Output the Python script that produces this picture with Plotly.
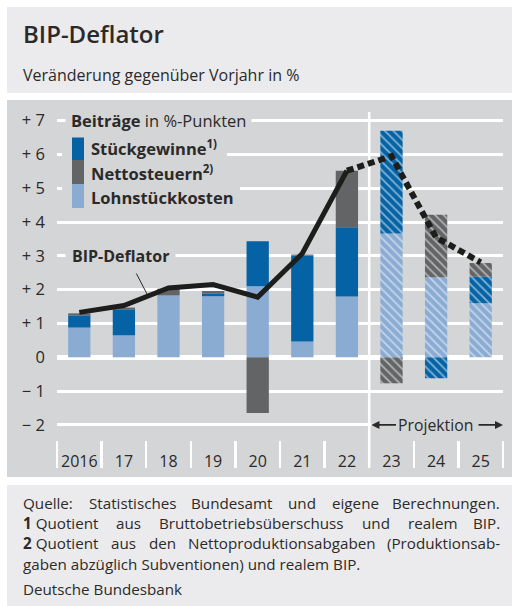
import plotly.graph_objects as go

# ---------------- data ----------------
years = ["2016", "17", "18", "19", "20", "21", "22", "23", "24", "25"]
lohnstueckkosten = [0.88, 0.65, 1.83, 1.81, 2.10, 0.47, 1.80, 3.66, 2.37, 1.60]
stueckgewinne = [0.36, 0.77, 0.00, 0.07, 1.33, 2.54, 2.05, 3.04, -0.62, 0.79]
nettosteuern = [0.06, 0.05, 0.20, 0.08, -1.65, 0.03, 1.67, -0.77, 1.85, 0.40]
bip_deflator = [1.33, 1.53, 2.05, 2.15, 1.78, 3.07, 5.52, 5.95, 3.55, 2.81]
first_projection = 7  # index of "23"
ytick_vals = [7, 6, 5, 4, 3, 2, 1, 0, -1, -2]
ytick_text = ["+ 7", "+ 6", "+ 5", "+ 4", "+ 3", "+ 2", "+ 1", "0", "\u2212 1", "\u2212 2"]

footnote_justified = [
    "Quelle: Statistisches Bundesamt und eigene Berechnungen.",
    "<b>1</b>\u00a0Quotient aus Bruttobetriebsüberschuss und realem BIP.",
    "<b>2</b>\u00a0Quotient aus den Nettoproduktionsabgaben (Produktionsab-",
]
footnote_last = "gaben abzüglich Subventionen) und realem BIP."
source = "Deutsche Bundesbank"

# ---------------- styles ----------------
W, H = 512, 606
FONT = "Open Sans"
TXT = "#2b2a29"
BLUE = "#0563a5"
GRAY = "#636466"
LBLUE = "#8aabd2"
PANEL = "#d4d5d7"
HEAD = "#ebebed"
X0, X1 = 57, 503


def px(x):
    return x / W


def py(y):
    return 1 - y / H


def xdata(p):
    return (p - X0) / ((X1 - X0) / len(years)) - 0.5


# approximate Open Sans advance widths (per 1000 em) for justification
CW = dict(a=556, b=613, c=476, d=613, e=561, f=344, g=548, h=614, i=253, j=253, k=525,
          l=253, m=930, n=614, o=604, p=613, q=613, r=408, s=477, t=353, u=614, v=501,
          w=778, x=524, y=501, z=469)
CW.update({"ä": 556, "ö": 604, "ü": 614, "B": 635, "Q": 781, "S": 537, "P": 592,
           "I": 275, "N": 760, "D": 715, "V": 579, ".": 266, ":": 266, "(": 295,
           ")": 295, "-": 322, "1": 572, "2": 572, "\u00a0": 260})


def text_w(s, size):
    s = s.replace("<b>", "").replace("</b>", "")
    return sum(CW.get(ch, 560) for ch in s) / 1000 * size


xs = list(range(len(years)))
hatch = ["" if i < first_projection else "\\" for i in xs]


def bar(name, vals, color):
    return go.Bar(
        x=xs, y=vals, name=name, width=0.5,
        marker=dict(color=color, line=dict(width=0),
                    pattern=dict(shape=hatch, fgcolor="white", size=6,
                                 solidity=0.3, fillmode="overlay")),
        showlegend=False, hoverinfo="skip")


fig = go.Figure()
fig.add_trace(bar("Lohnstückkosten", lohnstueckkosten, LBLUE))
fig.add_trace(bar("Stückgewinne", stueckgewinne, BLUE))
fig.add_trace(bar("Nettosteuern", nettosteuern, GRAY))

sp = first_projection - 1
fig.add_trace(go.Scatter(x=xs[:sp + 1], y=bip_deflator[:sp + 1], mode="lines",
                         line=dict(color="#1d1d1b", width=5), showlegend=False,
                         hoverinfo="skip"))
fig.add_trace(go.Scatter(x=xs[sp:], y=bip_deflator[sp:], mode="lines",
                         line=dict(color="#1d1d1b", width=6, dash="7px,4px"),
                         showlegend=False, hoverinfo="skip"))

shapes = []
# background panels
shapes.append(dict(type="rect", xref="paper", yref="paper", x0=px(7), x1=1,
                   y0=py(93), y1=py(7), fillcolor=HEAD, line_width=0, layer="below"))
shapes.append(dict(type="rect", xref="paper", yref="paper", x0=px(7), x1=1,
                   y0=py(477), y1=py(100), fillcolor=PANEL, line_width=0, layer="below"))
shapes.append(dict(type="rect", xref="paper", yref="paper", x0=px(7), x1=1,
                   y0=0, y1=py(485), fillcolor=HEAD, line_width=0, layer="below"))
# projection separator
shapes.append(dict(type="line", xref="x", yref="paper", x0=first_projection - 0.5,
                   x1=first_projection - 0.5, y0=py(467), y1=py(112),
                   line=dict(color="white", width=2.5), layer="below"))
# legend background (hide gridlines behind legend)
shapes.append(dict(type="rect", xref="paper", yref="paper", x0=px(62), x1=px(227),
                   y0=py(166), y1=py(140), fillcolor=PANEL, line_width=0, layer="above"))
shapes.append(dict(type="rect", xref="paper", yref="paper", x0=px(62), x1=px(240),
                   y0=py(196), y1=py(180), fillcolor=PANEL, line_width=0, layer="above"))
# legend swatches
for (y0, y1, c) in [(135, 160, BLUE), (160, 184, GRAY), (184, 208, LBLUE)]:
    shapes.append(dict(type="rect", xref="paper", yref="paper", x0=px(72), x1=px(84),
                       y0=py(y1), y1=py(y0), fillcolor=c, line_width=0, layer="above"))
# hide -2 gridline in projection range
shapes.append(dict(type="line", xref="x", yref="y", x0=first_projection - 0.45,
                   x1=len(years) - 0.5, y0=-2, y1=-2,
                   line=dict(color=PANEL, width=5), layer="above"))
# leader line for BIP-Deflator label
shapes.append(dict(type="line", xref="paper", yref="paper", x0=px(134), y0=py(269),
                   x1=px(147), y1=py(294), line=dict(color=TXT, width=1), layer="above"))

ann = []
ann.append(dict(text="BIP-Deflator", x=px(21), y=py(33), xref="paper", yref="paper",
                xanchor="left", yanchor="middle", showarrow=False,
                font=dict(family=FONT, size=24, color=TXT, weight=600)))
ann.append(dict(text="Veränderung gegenüber Vorjahr in %", x=px(21), y=py(75),
                xref="paper", yref="paper", xanchor="left", yanchor="middle",
                showarrow=False, font=dict(family=FONT, size=16, color=TXT)))
ann.append(dict(text="<b>Beiträge</b> in %-Punkten", x=px(65), y=7, xref="paper",
                yref="y", xanchor="left", yanchor="middle", showarrow=False,
                bgcolor=PANEL, borderpad=5,
                font=dict(family=FONT, size=16.5, color=TXT)))
for label, yc in [("Stückgewinne<sup>1)</sup>", 148), ("Nettosteuern<sup>2)</sup>", 173),
                  ("Lohnstückkosten", 197)]:
    ann.append(dict(text="<b>" + label + "</b>", x=px(89), y=py(yc), xref="paper",
                    yref="paper", xanchor="left", yanchor="middle", showarrow=False,
                    font=dict(family=FONT, size=16.5, color=TXT)))
ann.append(dict(text="<b>BIP-Deflator</b>", x=px(65), y=3, xref="paper", yref="y",
                xanchor="left", yanchor="middle", showarrow=False, bgcolor=PANEL,
                borderpad=6, font=dict(family=FONT, size=16, color=TXT)))
# Projektion label; its own arrow points left, a second arrow points right
ann.append(dict(text="Projektion", x=first_projection - 0.45, y=-2, xref="x", yref="y",
                ax=xdata(435), ay=-2, axref="x", ayref="y", showarrow=True,
                arrowhead=2, arrowsize=1, arrowwidth=1.6, arrowcolor=TXT, standoff=0,
                font=dict(family=FONT, size=15.8, color=TXT)))
ann.append(dict(text="", x=len(years) - 0.5, y=-2, xref="x", yref="y",
                ax=xdata(477), ay=-2, axref="x", ayref="y", showarrow=True,
                arrowhead=2, arrowsize=1, arrowwidth=1.6, arrowcolor=TXT))

# footnotes: justified lines placed word by word
FS = 15.2
FN = dict(family=FONT, size=FS, color=TXT)
LEFT, RIGHT = 22, 501
for line, yc in zip(footnote_justified, [503, 523, 543]):
    words = line.split(" ")
    widths = [text_w(w, FS) for w in words]
    gap = (RIGHT - LEFT - sum(widths)) / (len(words) - 1)
    xpos = LEFT
    for k, (w, wd) in enumerate(zip(words, widths)):
        if k == len(words) - 1:
            ann.append(dict(text=w, x=px(RIGHT), y=py(yc), xref="paper", yref="paper",
                            xanchor="right", yanchor="middle", showarrow=False, font=FN,
                            borderpad=0))
        else:
            ann.append(dict(text=w, x=px(xpos), y=py(yc), xref="paper", yref="paper",
                            xanchor="left", yanchor="middle", showarrow=False, font=FN,
                            borderpad=0))
        xpos += wd + gap
ann.append(dict(text=footnote_last, x=px(LEFT), y=py(564), xref="paper", yref="paper",
                xanchor="left", yanchor="middle", showarrow=False, font=FN, borderpad=0))
ann.append(dict(text=source, x=px(LEFT), y=py(589), xref="paper", yref="paper",
                xanchor="left", yanchor="middle", showarrow=False, font=FN, borderpad=0))

unit = 33.8
zero_px = 357.3
fig.update_layout(
    width=W, height=H, margin=dict(l=0, r=0, t=0, b=0),
    paper_bgcolor="white", plot_bgcolor="rgba(0,0,0,0)",
    barmode="relative", bargap=0.5,
    shapes=shapes, annotations=ann,
    xaxis=dict(domain=[px(X0), px(X1)], range=[-0.5, len(years) - 0.5],
               tickmode="array", tickvals=xs, ticktext=years, showgrid=False,
               zeroline=False, showline=False, ticks="outside", ticklen=7,
               tickcolor="rgba(0,0,0,0)",
               tickfont=dict(family=FONT, size=16, color=TXT),
               minor=dict(tickmode="array", tickvals=[i - 0.5 for i in range(len(years) + 1)],
                          ticks="outside", ticklen=27, tickwidth=2.5, tickcolor="white",
                          showgrid=False),
               fixedrange=True),
    yaxis=dict(domain=[py(440), py(100)],
               range=[-(440 - zero_px) / unit, (zero_px - 100) / unit],
               tickmode="array", tickvals=ytick_vals, ticktext=ytick_text,
               showgrid=True, gridcolor="white", gridwidth=3,
               zeroline=True, zerolinecolor="white", zerolinewidth=5,
               showline=False, ticks="", ticklabelstandoff=11,
               tickfont=dict(family=FONT, size=16.5, color=TXT), fixedrange=True),
)

fig.write_html("out.html",
               config={"displayModeBar": False, "staticPlot": True},
               post_script="document.body.style.margin='0px';"
                           "document.body.style.overflow='hidden';")
